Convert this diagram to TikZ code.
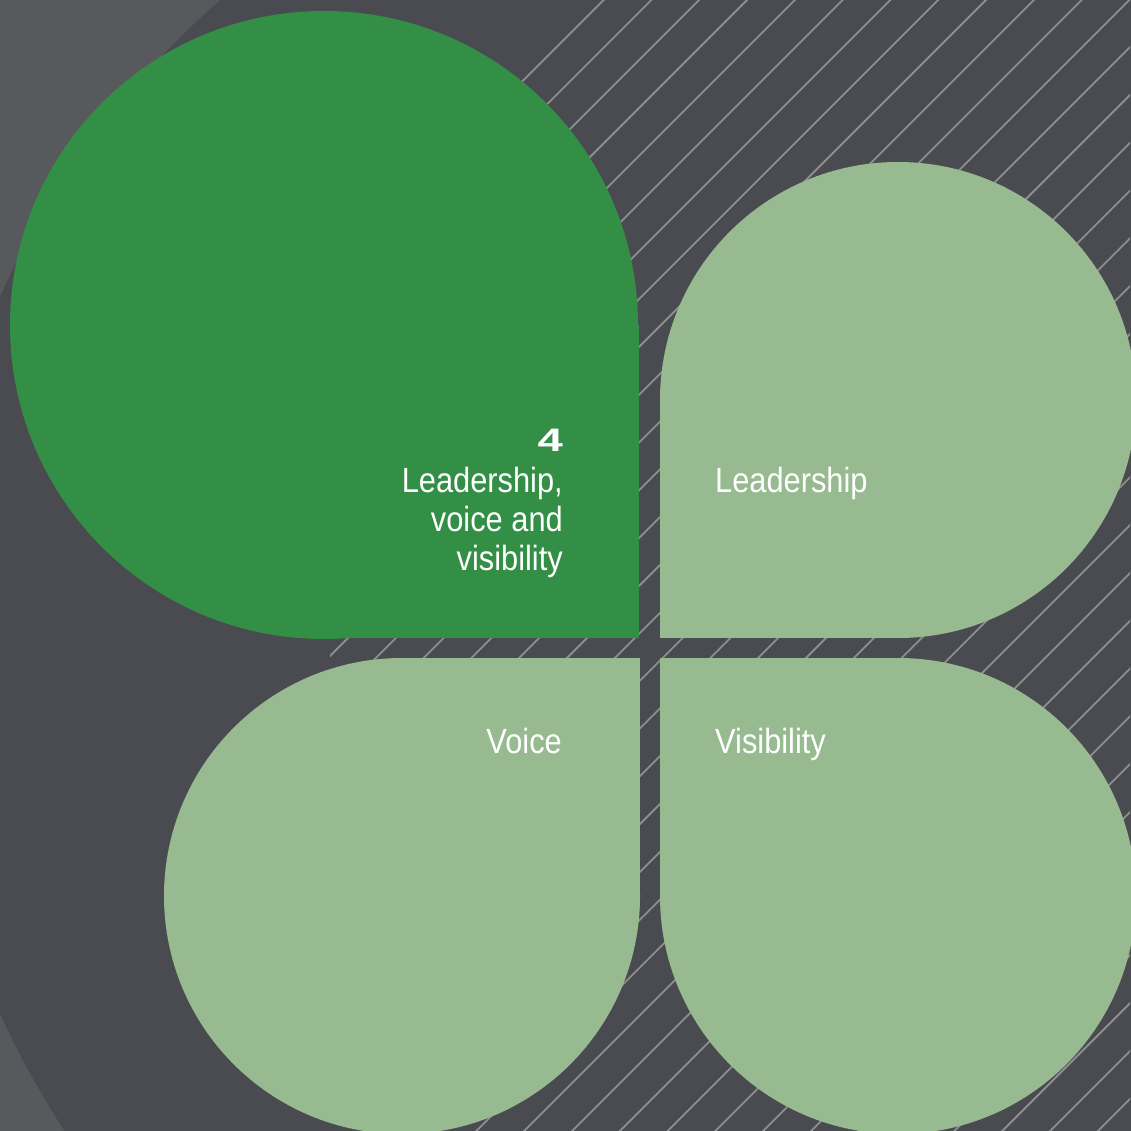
\documentclass[tikz,border=0pt]{standalone}
\usepackage{fontspec}
\setmainfont{Liberation Sans}[FakeStretch=0.88]
\newfontfamily\numfont{Liberation Sans}[FakeStretch=1.4]
\definecolor{bglight}{HTML}{58595D}
\definecolor{bgdark}{HTML}{4A4B50}
\definecolor{hatchc}{HTML}{8E8E8F}
\definecolor{leafdark}{HTML}{338F45}
\definecolor{leaflight}{HTML}{97BA90}
\tikzset{
  lbl/.style={text=white, inner sep=0pt, font=\fontsize{35}{39}\selectfont},
  numlbl/.style={text=white, inner sep=0pt, font=\numfont\bfseries\fontsize{32.5}{32.5}\selectfont},
  hatchline/.style={draw=hatchc, line width=1.8pt},
}
\begin{document}
\begin{tikzpicture}[x=1pt,y=-1pt]
\useasboundingbox (0,0) rectangle (1130,1131);
% background
\fill[bglight] (0,0) rectangle (1130,1131);
\fill[bgdark] (793,655) circle[radius=870pt];
% hatched region
\begin{scope}
  \clip (0,0) rectangle (1130,1131);
  \clip (1396,658) circle[radius=1066pt];
  \foreach \k in {-22,...,28}{
    \pgfmathsetmacro{\s}{991+47.8*\k}
    \draw[hatchline] (\s,-5) -- (\s-1141,1136);
  }
\end{scope}
% leaves
% green: square corner bottom-right
\fill[leafdark] (324,325) circle[radius=314pt];
\fill[leafdark] (324,325) rectangle (639,638);
% leadership: square corner bottom-left
\fill[leaflight] (898,400) circle[radius=238pt];
\fill[leaflight] (660,400) rectangle (898,638);
% voice: square corner top-right
\fill[leaflight] (402,896) circle[radius=238pt];
\fill[leaflight] (402,658) rectangle (640,896);
% visibility: square corner top-left
\fill[leaflight] (898,896) circle[radius=238pt];
\fill[leaflight] (660,658) rectangle (898,896);
% labels
\node[numlbl, anchor=base east] (num) at (563,451) {4};
\node[lbl, anchor=base east] (t1) at (563,492) {Leadership,};
\node[lbl, anchor=base east] (t2) at (563,531) {voice and};
\node[lbl, anchor=base east] (t3) at (563,570) {visibility};
\node[lbl, anchor=base west] (lead) at (715,492) {Leadership};
\node[lbl, anchor=base east] (voice) at (562,753) {Voice};
\node[lbl, anchor=base west] (vis) at (715,753) {Visibility};
\end{tikzpicture}
\end{document}
